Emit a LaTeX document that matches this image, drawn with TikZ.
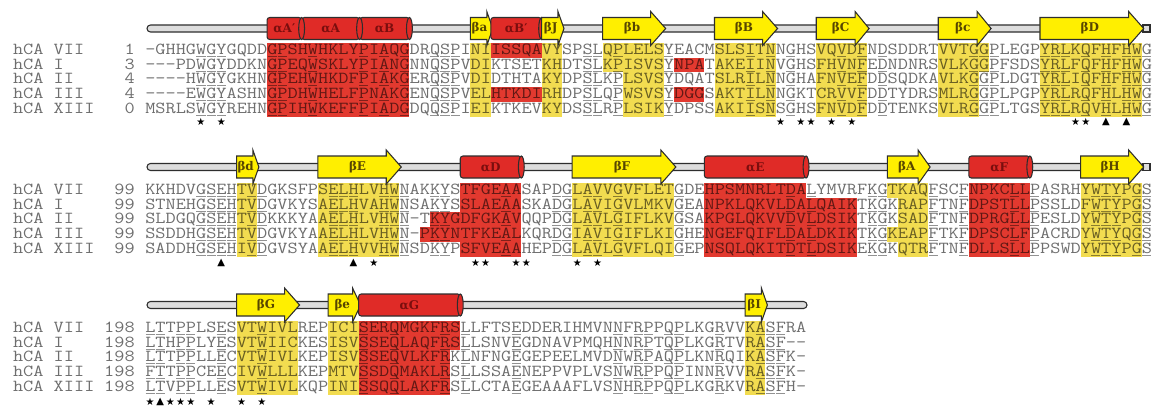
\documentclass[tikz,border=0pt]{standalone}
\usepackage{graphicx}
\usepackage{fontspec}
\newfontfamily\tagfont{DejaVu Serif}
\newfontfamily\markfont{DejaVu Sans}
\usepackage{xcolor}
\definecolor{helixred}{HTML}{E02B27}
\definecolor{strandyel}{HTML}{FFEF00}
\definecolor{boxred}{HTML}{E2392F}
\definecolor{boxyel}{HTML}{F2DC50}
\definecolor{seqgray}{HTML}{6E6E6E}
\definecolor{tubegray}{HTML}{DDDDDD}
\definecolor{edge}{HTML}{2E2E2E}
\definecolor{helixtext}{HTML}{7A0E0E}
\definecolor{strandtext}{HTML}{574600}
\usetikzlibrary{calc}

% alignment grid, in pixels of the figure
\newcommand{\colw}{10.17}
\newcommand{\colx}{145}
\newcommand{\rowh}{14.7}
\newcommand{\seqfont}{\ttfamily\fontsize{12.6}{14}\selectfont}
\newlength{\chw}
\newcommand{\residues}[1]{\scalebox{\seqsx}[1]{#1}}

% secondary structure: name, y of the bar, first column, last column, ...
\newcommand{\helixcyl}[5]{%
  \draw[helix, rounded corners=2pt] ({\colx+#3*\colw},{#2-11}) rectangle ({\colx+(#4+1)*\colw},{#2+11});
  \draw[helix] ({\colx+(#4+1)*\colw},#2) ellipse [x radius=2.2pt, y radius=8.25pt];
  \node[helixtag] (#1) at ({\colx+(#3+#4+1)*\colw/2},#2) {#5};}
\newcommand{\strandarw}[6]{%
  \pgfmathsetmacro\xa{\colx+#3*\colw}
  \pgfmathsetmacro\xt{\colx+(#4+1)*\colw+2}
  \pgfmathsetmacro\xh{\xt-#5}
  \draw[strand] (\xa,{#2-11}) -- (\xh,{#2-11}) -- (\xh,{#2-17}) -- (\xt,#2)
    -- (\xh,{#2+17}) -- (\xh,{#2+11}) -- (\xa,{#2+11}) -- cycle;
  \node[strandtag] (#1) at ({(\xa+\xt)/2-2},#2) {#6};}

\begin{document}
% one residue must be exactly one column wide (7.6275pt)
\settowidth{\chw}{\seqfont M}%
\pgfmathsetmacro\seqsx{7.6275pt/\chw}%
\begin{tikzpicture}[x=0.75pt, y=-0.75pt,
  seq/.style={anchor=base west, inner sep=0pt, text=seqgray, font=\seqfont},
  num/.style={seq, anchor=base east},
  tube/.style={draw=edge, fill=tubegray, line width=0.8pt},
  helix/.style={draw=edge, fill=helixred, line width=0.8pt},
  strand/.style={draw=edge, fill=strandyel, line width=0.8pt, line join=miter},
  helixtag/.style={inner sep=0pt, text=helixtext,
    font=\tagfont\bfseries\fontsize{9}{9}\selectfont},
  strandtag/.style={helixtag, text=strandtext},
  uline/.style={draw=seqgray!75, line width=0.6pt},
  sitemark/.style={inner sep=0pt, font=\markfont\fontsize{7.5}{7.5}\selectfont}
]
  \fill[white] (0,0) rectangle (1155,412);
  \useasboundingbox (0,0) rectangle (1155,412);

  % ---- block 1 ----
  \foreach \ra/\rb/\ca/\cb/\hue in {0/4/12/25/boxred,0/0/34/38/boxred,3/3/34/38/boxred,
    1/1/52/54/boxred,3/3/52/54/boxred,0/4/32/33/boxyel,0/4/39/40/boxyel,0/1/45/50/boxyel,
    2/4/47/50/boxyel,0/4/56/61/boxyel,0/4/66/70/boxyel,0/1/78/82/boxyel,2/4/78/81/boxyel,
    0/4/88/97/boxyel}
    \fill[\hue] ({\colx+\ca*\colw},{43+\ra*\rowh}) rectangle ({\colx+(\cb+1)*\colw},{43+(\rb+1)*\rowh});
  \begin{scope}[blend mode=multiply]
  \foreach \seqname/\seqno/\seqres [count=\r from 0] in {%
    hCA VII/1/-GHHGWGYGQDDGPSHWHKLYPIAQGDRQSPINIISSQAVYSPSLQPLELSYEACMSLSITNNGHSVQVDFNDSDDRTVVTGGPLEGPYRLKQFHFHWG,%
    hCA I/3/---PDWGYDDKNGPEQWSKLYPIANGNNQSPVDIKTSETKHDTSLKPISVSYNPATAKEIINVGHSFHVNFEDNDNRSVLKGGPFSDSYRLFQFHFHWG,%
    hCA II/4/----HWGYGKHNGPEHWHKDFPIAKGERQSPVDIDTHTAKYDPSLKPLSVSYDQATSLRILNNGHAFNVEFDDSQDKAVLKGGPLDGTYRLIQFHFHWG,%
    hCA III/4/----EWGYASHNGPDHWHELFPNAKGENQSPVELHTKDIRHDPSLQPWSVSYDGGSAKTILNNGKTCRVVFDDTYDRSMLRGGPLPGPYRLRQFHLHWG,%
    hCA XIII/0/MSRLSWGYREHNGPIHWKEFFPIADGDQQSPIEIKTKEVKYDSSLRPLSIKYDPSSAKIISNSGHSFNVDFDDTENKSVLRGGPLTGSYRLRQVHLHWG}{
    \node[seq] (t1-\r) at (12.8,{54.5+\r*\rowh}) {\residues{\seqname}};
    \node[num] (n1-\r) at (135,{54.5+\r*\rowh}) {\residues{\seqno}};
    \node[seq] (s1-\r) at (\colx,{54.5+\r*\rowh}) {\residues{\seqres}};
  }
  \foreach \k in {5,6,7,12,13,16,21,23,25,28,29,30,43,44,46,51,59,61,63,68,70,72,81,82,83,
    88,89,90,92,94,96,97,98}
    \foreach \r in {0,...,4}
      \draw[uline] ({\colx+\k*\colw+0.5},{56.3+\r*\rowh}) -- ++({\colw-1},0);
  \end{scope}
  \foreach \k in {5,7,62,64,65,67,69,91,92}
    \node[sitemark] (st1-\k) at ({\colx+(\k+0.5)*\colw},121.5) {★};
  \foreach \k in {94,96}
    \node[sitemark] (tr1-\k) at ({\colx+(\k+0.5)*\colw},121.5) {▲};

  \draw[tube, rounded corners=2.6pt] (147,25) rectangle (1143,32);
  \draw[tube] (1143,25) rectangle (1150,32);
  \helixcyl{aB}{28.5}{21.1}{25}{αB}
  \helixcyl{aA}{28.5}{15.4}{20.1}{αA}
  \helixcyl{aAp}{28.5}{12}{14.4}{αA′}
  \strandarw{ba}{28.5}{32}{33}{6}{βa}
  \helixcyl{aBp}{28.5}{34}{38}{αB′}
  \strandarw{bJ}{28.5}{39}{40}{6}{βJ}
  \strandarw{bb}{28.5}{45}{50}{15}{βb}
  \strandarw{bB}{28.5}{56}{61}{15}{βB}
  \strandarw{bC}{28.5}{66}{70}{14}{βC}
  \strandarw{bc}{28.5}{78}{82}{14}{βc}
  \strandarw{bD}{28.5}{88}{97}{15}{βD}

  % ---- block 2 ----
  \foreach \ra/\rb/\ca/\cb/\hue in {0/4/9/10/boxyel,0/4/17/24/boxyel,0/1/31/36/boxred,
    2/2/28/36/boxred,3/3/27/36/boxred,4/4/31/36/boxred,0/4/42/51/boxyel,0/0/55/64/boxred,
    1/4/55/69/boxred,0/0/73/76/boxyel,1/2/74/76/boxyel,3/3/73/76/boxyel,4/4/74/76/boxyel,
    0/4/81/86/boxred,0/4/92/97/boxyel}
    \fill[\hue] ({\colx+\ca*\colw},{183+\ra*\rowh}) rectangle ({\colx+(\cb+1)*\colw},{183+(\rb+1)*\rowh});
  \begin{scope}[blend mode=multiply]
  \foreach \seqname/\seqno/\seqres [count=\r from 0] in {%
    hCA VII/99/KKHDVGSEHTVDGKSFPSELHLVHWNAKKYSTFGEAASAPDGLAVVGVFLETGDEHPSMNRLTDALYMVRFKGTKAQFSCFNPKCLLPASRHYWTYPGS,%
    hCA I/99/STNEHGSEHTVDGVKYSAELHVAHWNSAKYSSLAEAASKADGLAVIGVLMKVGEANPKLQKVLDALQAIKTKGKRAPFTNFDPSTLLPSSLDFWTYPGS,%
    hCA II/99/SLDGQGSEHTVDKKKYAAELHLVHWN-TKYGDFGKAVQQPDGLAVLGIFLKVGSAKPGLQKVVDVLDSIKTKGKSADFTNFDPRGLLPESLDYWTYPGS,%
    hCA III/99/SSDDHGSEHTVDGVKYAAELHLVHWN-PKYNTFKEALKQRDGIAVIGIFLKIGHENGEFQIFLDALDKIKTKGKEAPFTKFDPSCLFPACRDYWTYQGS,%
    hCA XIII/99/SADDHGSEHIVDGVSYAAELHVVHWNSDKYPSFVEAAHEPDGLAVLGVFLQIGEPNSQLQKITDTLDSIKEKGKQTRFTNFDLLSLLPPSWDYWTYPGS}{
    \node[seq] (t2-\r) at (12.8,{194.5+\r*\rowh}) {\residues{\seqname}};
    \node[num] (n2-\r) at (135,{194.5+\r*\rowh}) {\residues{\seqno}};
    \node[seq] (s2-\r) at (\colx,{194.5+\r*\rowh}) {\residues{\seqres}};
  }
  \foreach \k in {5,6,7,8,10,11,18,19,20,23,24,25,28,29,35,40,41,43,44,46,52,63,65,71,72,
    77,80,85,87,93,94,95,97,98}
    \foreach \r in {0,...,4}
      \draw[uline] ({\colx+\k*\colw+0.5},{196.3+\r*\rowh}) -- ++({\colw-1},0);
  \end{scope}
  \foreach \k in {22,32,33,36,37,42,44}
    \node[sitemark] (st2-\k) at ({\colx+(\k+0.5)*\colw},262.5) {★};
  \foreach \k in {7,20}
    \node[sitemark] (tr2-\k) at ({\colx+(\k+0.5)*\colw},262.5) {▲};

  \draw[tube, rounded corners=2.6pt] (147,163.5) rectangle (1143,170.5);
  \draw[tube] (1143,163.5) rectangle (1150,170.5);
  \strandarw{bd}{167}{9}{10}{6}{βd}
  \strandarw{bE}{167}{17}{24}{15}{βE}
  \helixcyl{aD}{167}{31}{36}{αD}
  \strandarw{bF}{167}{42}{51}{15}{βF}
  \helixcyl{aE}{167}{55}{64}{αE}
  \strandarw{bA}{167}{73}{76}{12}{βA}
  \helixcyl{aF}{167}{81}{86}{αF}
  \strandarw{bH}{167}{92}{97}{15}{βH}

  % ---- block 3 ----
  \foreach \ra/\rb/\ca/\cb/\hue in {0/4/9/14/boxyel,0/4/18/20/boxyel,0/1/21/30/boxred,
    2/4/21/29/boxred,0/4/59/60/boxyel}
    \fill[\hue] ({\colx+\ca*\colw},{321+\ra*\rowh}) rectangle ({\colx+(\cb+1)*\colw},{321+(\rb+1)*\rowh});
  \begin{scope}[blend mode=multiply]
  \foreach \seqname/\seqno/\seqres [count=\r from 0] in {%
    hCA VII/198/LTTPPLSESVTWIVLREPICISERQMGKFRSLLFTSEDDERIHMVNNFRPPQPLKGRVVKASFRA,%
    hCA I/198/LTHPPLYESVTWIICKESISVSSEQLAQFRSLLSNVEGDNAVPMQHNNRPTQPLKGRTVRASF--,%
    hCA II/198/LTTPPLLECVTWIVLKEPISVSSEQVLKFRKLNFNGEGEPEELMVDNWRPAQPLKNRQIKASFK-,%
    hCA III/198/FTTPPCEECIVWLLLKEPMTVSSDQMAKLRSLLSSAENEPPVPLVSNWRPPQPINNRVVRASFK-,%
    hCA XIII/198/LTVPPLLESVTWIVLKQPINISSQQLAKFRSLLCTAEGEAAAFLVSNHRPPQPLKGRKVRASFH-}{
    \node[seq] (t3-\r) at (12.8,{332.5+\r*\rowh}) {\residues{\seqname}};
    \node[num] (n3-\r) at (135,{332.5+\r*\rowh}) {\residues{\seqno}};
    \node[seq] (s3-\r) at (\colx,{332.5+\r*\rowh}) {\residues{\seqres}};
  }
  \foreach \k in {0,1,3,4,7,11,21,24,29,31,36,46,48,49,51,52,56,60,61,62}
    \foreach \r in {0,...,4}
      \draw[uline] ({\colx+\k*\colw+0.5},{334.3+\r*\rowh}) -- ++({\colw-1},0);
  \end{scope}
  \foreach \k in {0,2,3,4,6,9,11}
    \node[sitemark] (st3-\k) at ({\colx+(\k+0.5)*\colw},401.5) {★};
  \node[sitemark] (tr3-1) at ({\colx+1.5*\colw},402) {▲};

  \draw[tube, rounded corners=2.6pt] (147,301.5) rectangle (807,308.5);
  \strandarw{bG}{305}{9}{14}{15}{βG}
  \strandarw{be}{305}{18}{20}{8}{βe}
  \helixcyl{aG}{305}{21}{30}{αG}
  \strandarw{bI}{305}{59}{60}{6}{βI}
\end{tikzpicture}
\end{document}
